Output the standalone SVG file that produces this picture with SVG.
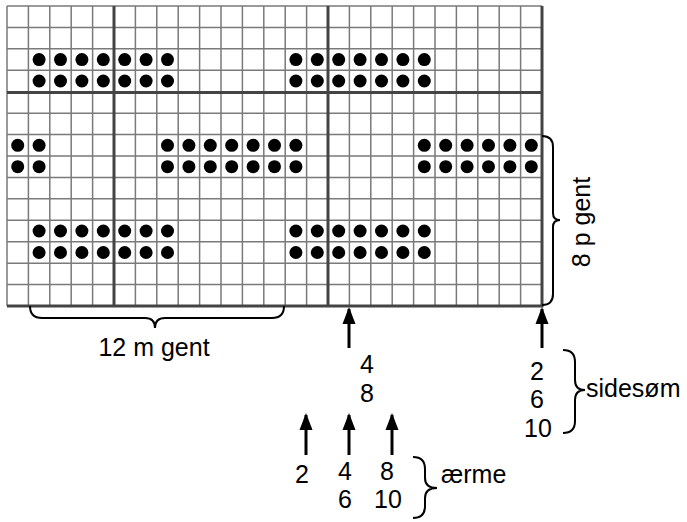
<svg xmlns="http://www.w3.org/2000/svg" width="687" height="522" viewBox="0 0 687 522">
<style>
.thin{stroke:#7a7a7a;stroke-width:1.5;fill:none}
.thick{stroke:#444;stroke-width:3;fill:none}
.dot{fill:#000}
.brace{stroke:#000;stroke-width:2;fill:none}
.arr{stroke:#000;stroke-width:3;fill:none;marker-end:url(#ah)}
text{font-family:"Liberation Sans",Arial,sans-serif;font-size:25px;fill:#000}
.c{text-anchor:middle}
</style>
<defs>
<marker id="ah" markerUnits="userSpaceOnUse" markerWidth="18" markerHeight="14" viewBox="0 0 18 14" refX="16" refY="7" orient="auto">
<path d="M18,7 L1,0.5 L1,13.5 Z" fill="#000"/>
</marker>
<g id="d2"><circle class="dot" cx="0" cy="0" r="6.5"/><circle class="dot" cx="21.4" cy="0" r="6.5"/></g>
<g id="d6"><use href="#d2"/><use href="#d2" x="42.8"/><use href="#d2" x="85.6"/></g>
<g id="d7"><use href="#d6"/><circle class="dot" cx="128.4" cy="0" r="6.5"/></g>
</defs>
<rect x="0" y="0" width="687" height="522" fill="#fff"/>
<g id="grid">
<path class="thin" d="M7,6V306M28.4,6V306M49.8,6V306M71.2,6V306M92.6,6V306M135.4,6V306M156.8,6V306M178.2,6V306M199.6,6V306M221,6V306M242.4,6V306M263.8,6V306M285.2,6V306M306.6,6V306M349.4,6V306M370.8,6V306M392.2,6V306M413.6,6V306M435,6V306M456.4,6V306M477.8,6V306M499.2,6V306M520.6,6V306"/>
<path class="thin" d="M7,6H542M7,27.43H542M7,48.86H542M7,70.29H542M7,113.15H542M7,134.58H542M7,156.01H542M7,177.44H542M7,198.87H542M7,220.3H542M7,241.73H542M7,263.16H542M7,284.59H542"/>
<path class="thick" d="M114,6V306M328,6V306M7,92.5H542M542,6V307.5M7,306H543.5"/>
</g>
<g id="dots">
<use href="#d7" x="39.1" y="59.6"/><use href="#d7" x="39.1" y="81"/>
<use href="#d7" x="295.9" y="59.6"/><use href="#d7" x="295.9" y="81"/>
<use href="#d2" x="17.7" y="145.3"/><use href="#d2" x="17.7" y="166.7"/>
<use href="#d7" x="167.5" y="145.3"/><use href="#d7" x="167.5" y="166.7"/>
<use href="#d6" x="424.3" y="145.3"/><use href="#d6" x="424.3" y="166.7"/>
<use href="#d7" x="39.1" y="231"/><use href="#d7" x="39.1" y="252.5"/>
<use href="#d7" x="295.9" y="231"/><use href="#d7" x="295.9" y="252.5"/>
</g>
<g id="braces">
<path class="brace" d="M30,306 Q30,318 42,318 L145,318 Q155,318 155,328 Q155,318 165,318 L272,318 Q284,318 284,306"/>
<path class="brace" d="M542,136 Q553,136 553,147 L553,213 Q553,220 560,220 Q553,220 553,227 L553,294 Q553,305 542,305"/>
<path class="brace" d="M563,350 Q575,350 575,362 L575,380 Q575,390 585,390 Q575,390 575,400 L575,421 Q575,433 563,433"/>
<path class="brace" d="M413,457 Q425,457 425,469 L425,478 Q425,488 437,488 Q425,488 425,498 L425,506 Q425,518 413,518"/>
</g>
<g id="connectors">
<path class="arr" d="M349,348V309"/>
<path class="arr" d="M542,348V309"/>
<path class="arr" d="M306,455V415"/>
<path class="arr" d="M349,455V415"/>
<path class="arr" d="M392,455V415"/>
</g>
<g id="labels">
<text class="c" x="154" y="356">12 m gent</text>
<text class="c" transform="translate(590,222) rotate(-90)">8 p gent</text>
<text class="c" x="367" y="373">4</text>
<text class="c" x="367" y="402">8</text>
<text class="c" x="537" y="380">2</text>
<text class="c" x="537" y="408">6</text>
<text class="c" x="538" y="437">10</text>
<text x="586" y="397">sidesøm</text>
<text class="c" x="302" y="483">2</text>
<text class="c" x="345" y="480">4</text>
<text class="c" x="387" y="480">8</text>
<text class="c" x="345" y="508">6</text>
<text class="c" x="388" y="508">10</text>
<text x="441" y="483">ærme</text>
</g>
</svg>
